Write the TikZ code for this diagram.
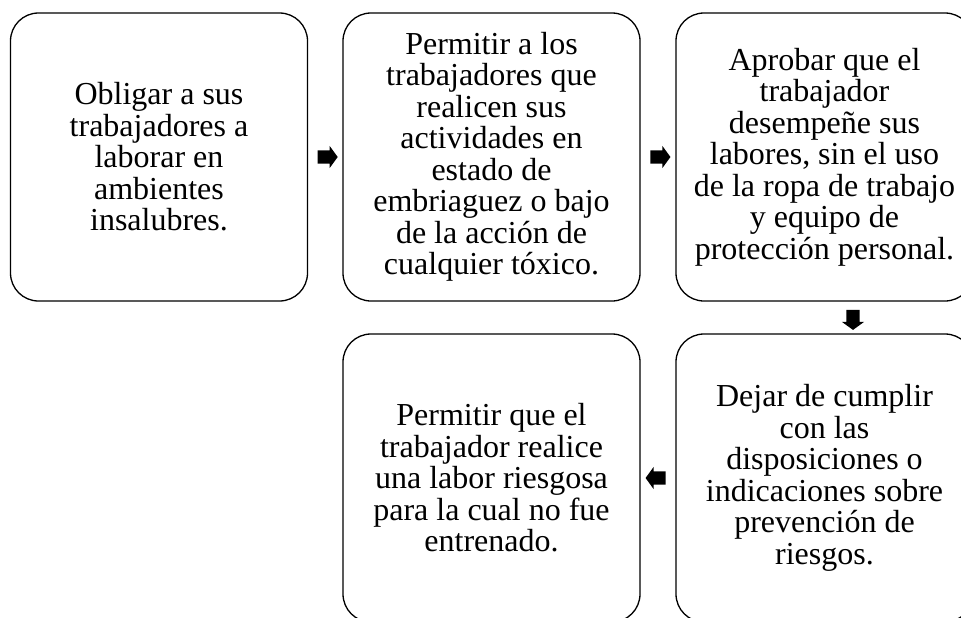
\documentclass[tikz,border=0pt]{standalone}
\usepackage{fontspec}
\setmainfont{Liberation Serif}
\usetikzlibrary{shapes.arrows,calc}
\tikzset{
  stepbox/.style={draw=black, line width=1.3pt, rounded corners=28pt, minimum width=297pt, minimum height=288pt, inner sep=0pt, align=center, font=\fontsize{32}{31.5}\selectfont},
  blockarrow/.style={single arrow, fill=black, draw=none, minimum width=22pt, minimum height=20pt, single arrow head extend=4.5pt, single arrow tip angle=108, inner sep=6.5pt}
}
\begin{document}
\begin{tikzpicture}[x=1pt,y=-1pt]
\useasboundingbox (0,0) rectangle (961,618);
\clip (0,0) rectangle (961,618);
\node[stepbox] (b1) at (159,157) {Obligar a sus\\trabajadores a\\laborar en\\ambientes\\insalubres.};
\node[stepbox] (b2) at (491.5,157) {Permitir a los\\trabajadores que\\realicen sus\\actividades en\\estado de\\embriaguez o bajo\\de la acción de\\cualquier tóxico.};
\node[stepbox] (b3) at (824.5,157) {Aprobar que el\\trabajador\\desempeñe sus\\labores, sin el uso\\de la ropa de trabajo\\y equipo de\\protección personal.};
\node[stepbox] (b4) at (491.5,478) {Permitir que el\\trabajador realice\\una labor riesgosa\\para la cual no fue\\entrenado.};
\node[stepbox] (b5) at (824.5,478) {Dejar de cumplir\\con las\\disposiciones o\\indicaciones sobre\\prevención de\\riesgos.};
\node[blockarrow] (a1) at ($(b1.east)!0.5!(b2.west)$) {};
\node[blockarrow] (a2) at ($(b2.east)!0.5!(b3.west)$) {};
\node[blockarrow, shape border rotate=270] (a3) at ($(b3.south)!0.5!(b5.north)+(28.5,0)$) {};
\node[blockarrow, shape border rotate=180] (a4) at ($(b5.west)!0.5!(b4.east)$) {};
\end{tikzpicture}
\end{document}
